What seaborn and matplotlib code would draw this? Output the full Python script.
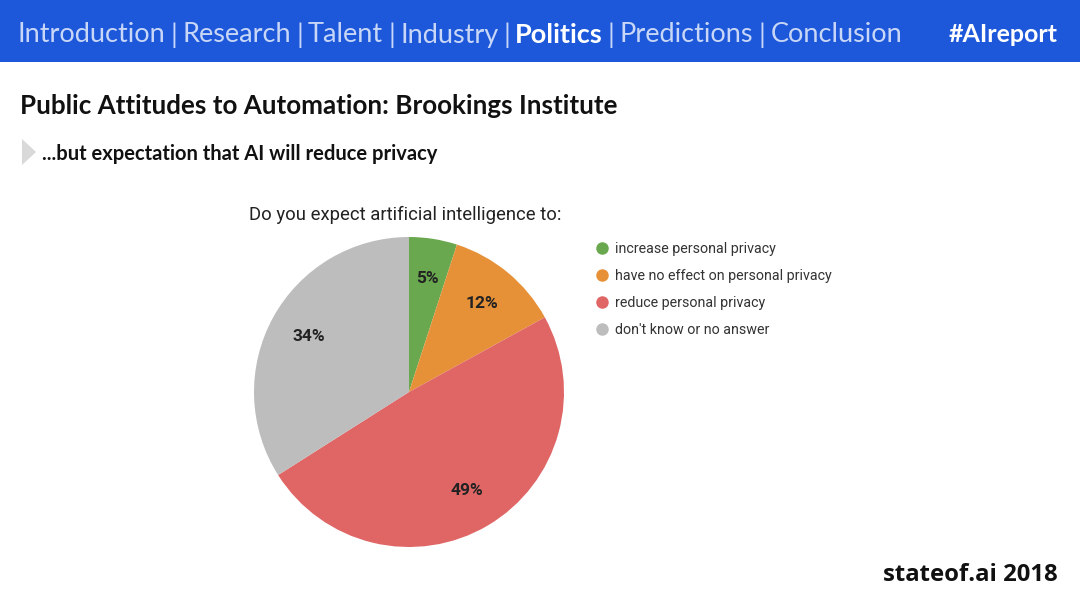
import matplotlib
matplotlib.use("Agg")
import matplotlib.pyplot as plt
from matplotlib.lines import Line2D
from matplotlib.patches import Rectangle, Polygon
import seaborn as sns
import pandas as pd

# data
answers = ["increase personal privacy", "have no effect on personal privacy",
           "reduce personal privacy", "don't know or no answer"]
shares = [5, 12, 49, 34]
colors = ["#6aa84f", "#e69138", "#e06666", "#bdbdbd"]

nav_items = ["Introduction", "Research", "Talent", "Industry", "Politics", "Predictions", "Conclusion"]
active_item = "Politics"

df = pd.DataFrame({"answer": answers, "share": shares})

sns.set_theme(style="white")
plt.rcParams["font.family"] = ["Roboto", "DejaVu Sans"]

W, H = 1080, 608
fig = plt.figure(figsize=(W / 100, H / 100), dpi=100)
fig.patch.set_facecolor("white")


def fx(x):
    return x / W


def fy(y):
    return 1 - y / H


# header bar
fig.patches.append(Rectangle((0, fy(62)), 1, 62 / H, transform=fig.transFigure,
                             facecolor="#1c58d9", edgecolor="none", zorder=0))

renderer = fig.canvas.get_renderer()
x = 18
for i, item in enumerate(nav_items):
    is_active = item == active_item
    t = fig.text(fx(x), fy(35), item, fontsize=19.5, va="center", ha="left",
                 color="white" if is_active else "#c8d6f7",
                 fontweight="bold" if is_active else "normal", family="Lato")
    x = t.get_window_extent(renderer).x1 + 5
    if i < len(nav_items) - 1:
        s = fig.text(fx(x), fy(35), "|", fontsize=19.5, va="center", ha="left",
                     color="#c8d6f7", family="Lato")
        x = s.get_window_extent(renderer).x1 + 5
fig.text(fx(1058), fy(35), "#AIreport", fontsize=18, va="center", ha="right",
         color="white", fontweight="bold", family="Lato")

# titles
fig.text(fx(20), fy(106), "Public Attitudes to Automation: Brookings Institute",
         fontsize=18.7, fontweight="bold", va="center", ha="left", color="#111111", family="Lato")
fig.patches.append(Polygon([[fx(22), fy(139)], [fx(36), fy(152)], [fx(22), fy(165)]],
                           closed=True, transform=fig.transFigure,
                           facecolor="#d9d9d9", edgecolor="none"))
fig.text(fx(42), fy(154), "...but expectation that AI will reduce privacy",
         fontsize=14.5, fontweight="bold", va="center", ha="left", color="#111111", family="Lato")

fig.text(fx(249), fy(215), "Do you expect artificial intelligence to:",
         fontsize=13.3, va="center", ha="left", color="#222222")

# pie
cx, cy, r = 409, 392, 155
ax = fig.add_axes([fx(cx - r), fy(cy + r), 2 * r / W, 2 * r / H])
wedges, texts, autotexts = ax.pie(df["share"], colors=colors, startangle=90, counterclock=False,
                                  autopct="%.0f%%", pctdistance=0.74, radius=1,
                                  wedgeprops=dict(linewidth=0))
for at in autotexts:
    at.set_fontsize(12.5)
    at.set_fontweight("bold")
    at.set_color("#222222")
ax.set_xlim(-1, 1)
ax.set_ylim(-1, 1)
ax.set_aspect("equal")
ax.axis("off")

handles = [Line2D([0], [0], marker="o", linestyle="none", markersize=9,
                  markerfacecolor=c, markeredgecolor="none") for c in colors]
fig.legend(handles, answers, loc="upper left", bbox_to_anchor=(fx(581), fy(229)),
           frameon=False, fontsize=10.3, labelspacing=0.92, handletextpad=0.25,
           handlelength=1.2, labelcolor="#333333")

fig.text(fx(1058), fy(575), "stateof.ai 2018", fontsize=17.2, fontweight="bold",
         va="center", ha="right", color="#111111", family="Open Sans")

fig.savefig("out.png", dpi=100, facecolor="white")
